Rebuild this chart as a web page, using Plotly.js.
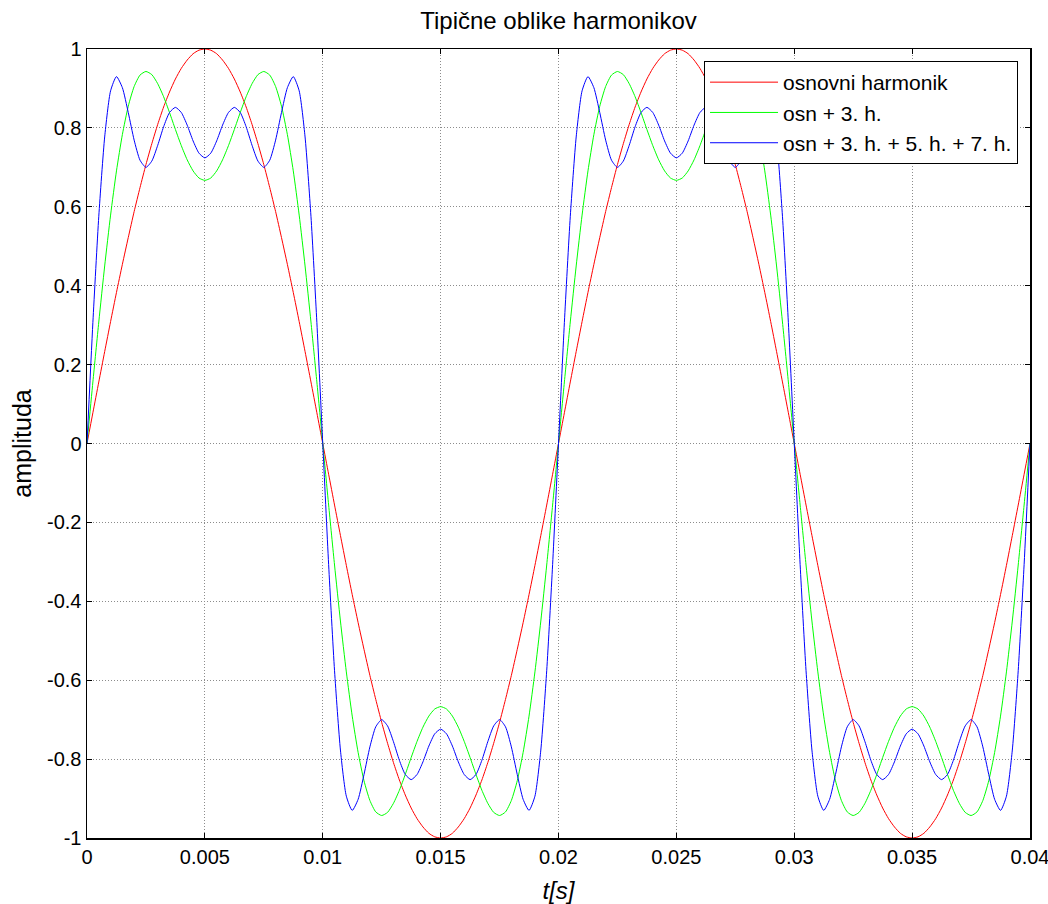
<!DOCTYPE html>
<html><head><meta charset="utf-8">
<script src="https://cdn.plot.ly/plotly-3.0.1.min.js"></script>
<style>html,body{margin:0;padding:0;background:#fff}#chart{width:1048px;height:904px}</style>
</head><body><div id="chart"></div>
<script>
var t = [0,0.00025,0.0005,0.00075,0.001,0.00125,0.0015,0.00175,0.002,0.00225,0.0025,0.00275,0.003,0.00325,0.0035,0.00375,0.004,0.00425,0.0045,0.00475,
0.005,0.00525,0.0055,0.00575,0.006,0.00625,0.0065,0.00675,0.007,0.00725,0.0075,0.00775,0.008,0.00825,0.0085,0.00875,0.009,0.00925,0.0095,0.00975,
0.01,0.01025,0.0105,0.01075,0.011,0.01125,0.0115,0.01175,0.012,0.01225,0.0125,0.01275,0.013,0.01325,0.0135,0.01375,0.014,0.01425,0.0145,0.01475,
0.015,0.01525,0.0155,0.01575,0.016,0.01625,0.0165,0.01675,0.017,0.01725,0.0175,0.01775,0.018,0.01825,0.0185,0.01875,0.019,0.01925,0.0195,0.01975,
0.02,0.02025,0.0205,0.02075,0.021,0.02125,0.0215,0.02175,0.022,0.02225,0.0225,0.02275,0.023,0.02325,0.0235,0.02375,0.024,0.02425,0.0245,0.02475,
0.025,0.02525,0.0255,0.02575,0.026,0.02625,0.0265,0.02675,0.027,0.02725,0.0275,0.02775,0.028,0.02825,0.0285,0.02875,0.029,0.02925,0.0295,0.02975,
0.03,0.03025,0.0305,0.03075,0.031,0.03125,0.0315,0.03175,0.032,0.03225,0.0325,0.03275,0.033,0.03325,0.0335,0.03375,0.034,0.03425,0.0345,0.03475,
0.035,0.03525,0.0355,0.03575,0.036,0.03625,0.0365,0.03675,0.037,0.03725,0.0375,0.03775,0.038,0.03825,0.0385,0.03875,0.039,0.03925,0.0395,0.03975,0.04];

var osnovni = [0,
.078,.156,.233,.309,.383,.454,.522,.588,.649,.707,.760,.809,.853,.891,.924,.951,.972,.988,.997,1,.997,.988,.972,.951,.924,.891,.853,.809,.760,.707,.649,.588,.522,.454,.383,.309,.233,.156,.078,0,
-.078,-.156,-.233,-.309,-.383,-.454,-.522,-.588,-.649,-.707,-.760,-.809,-.853,-.891,-.924,-.951,-.972,-.988,-.997,-1,-.997,-.988,-.972,-.951,-.924,-.891,-.853,-.809,-.760,-.707,-.649,-.588,-.522,-.454,-.383,-.309,-.233,-.156,-.078,0,
.078,.156,.233,.309,.383,.454,.522,.588,.649,.707,.760,.809,.853,.891,.924,.951,.972,.988,.997,1,.997,.988,.972,.951,.924,.891,.853,.809,.760,.707,.649,.588,.522,.454,.383,.309,.233,.156,.078,0,
-.078,-.156,-.233,-.309,-.383,-.454,-.522,-.588,-.649,-.707,-.760,-.809,-.853,-.891,-.924,-.951,-.972,-.988,-.997,-1,-.997,-.988,-.972,-.951,-.924,-.891,-.853,-.809,-.760,-.707,-.649,-.588,-.522,-.454,-.383,-.309,-.233,-.156,-.078,0];

var osn3 = [0,
.156,.308,.450,.579,.691,.783,.855,.905,.934,.943,.935,.912,.879,.839,.796,.755,.719,.691,.673,.667,.673,.691,.719,.755,.796,.839,.879,.912,.935,.943,.934,.905,.855,.783,.691,.579,.450,.308,.156,0,
-.156,-.308,-.450,-.579,-.691,-.783,-.855,-.905,-.934,-.943,-.935,-.912,-.879,-.839,-.796,-.755,-.719,-.691,-.673,-.667,-.673,-.691,-.719,-.755,-.796,-.839,-.879,-.912,-.935,-.943,-.934,-.905,-.855,-.783,-.691,-.579,-.450,-.308,-.156,0,
.156,.308,.450,.579,.691,.783,.855,.905,.934,.943,.935,.912,.879,.839,.796,.755,.719,.691,.673,.667,.673,.691,.719,.755,.796,.839,.879,.912,.935,.943,.934,.905,.855,.783,.691,.579,.450,.308,.156,0,
-.156,-.308,-.450,-.579,-.691,-.783,-.855,-.905,-.934,-.943,-.935,-.912,-.879,-.839,-.796,-.755,-.719,-.691,-.673,-.667,-.673,-.691,-.719,-.755,-.796,-.839,-.879,-.912,-.935,-.943,-.934,-.905,-.855,-.783,-.691,-.579,-.450,-.308,-.156,0];

var osn357 = [0,
.307,.576,.777,.894,.930,.902,.839,.769,.718,.700,.716,.756,.803,.839,.852,.839,.807,.767,.736,.724,.736,.767,.807,.839,.852,.839,.803,.756,.716,.700,.718,.769,.839,.902,.930,.894,.777,.576,.307,0,
-.307,-.576,-.777,-.894,-.930,-.902,-.839,-.769,-.718,-.700,-.716,-.756,-.803,-.839,-.852,-.839,-.807,-.767,-.736,-.724,-.736,-.767,-.807,-.839,-.852,-.839,-.803,-.756,-.716,-.700,-.718,-.769,-.839,-.902,-.930,-.894,-.777,-.576,-.307,0,
.307,.576,.777,.894,.930,.902,.839,.769,.718,.700,.716,.756,.803,.839,.852,.839,.807,.767,.736,.724,.736,.767,.807,.839,.852,.839,.803,.756,.716,.700,.718,.769,.839,.902,.930,.894,.777,.576,.307,0,
-.307,-.576,-.777,-.894,-.930,-.902,-.839,-.769,-.718,-.700,-.716,-.756,-.803,-.839,-.852,-.839,-.807,-.767,-.736,-.724,-.736,-.767,-.807,-.839,-.852,-.839,-.803,-.756,-.716,-.700,-.718,-.769,-.839,-.902,-.930,-.894,-.777,-.576,-.307,0];

var names = ['osnovni harmonik', 'osn + 3. h.', 'osn + 3. h. + 5. h. + 7. h.'];
var xTicks = [0, 0.005, 0.01, 0.015, 0.02, 0.025, 0.03, 0.035, 0.04];
var xTickText = ['0', '0.005', '0.01', '0.015', '0.02', '0.025', '0.03', '0.035', '0.04'];
var yTicks = [-1, -0.8, -0.6, -0.4, -0.2, 0, 0.2, 0.4, 0.6, 0.8, 1];
var yTickText = ['-1', '-0.8', '-0.6', '-0.4', '-0.2', '0', '0.2', '0.4', '0.6', '0.8', '1'];

var series = [osnovni, osn3, osn357];
var colors = ['#ff0000', '#00ff00', '#0000ff'];
var traces = series.map(function (s, i) {
  return {x: t, y: s, name: names[i], type: 'scatter', mode: 'lines',
    line: {color: colors[i], width: 1, shape: 'spline', smoothing: 0.6}};
});

var fam = 'Liberation Sans, Arial, sans-serif';
var axisCommon = {
  ticks: 'inside', ticklen: 5, tickwidth: 1, tickcolor: '#000',
  showline: true, linecolor: '#000', linewidth: 1.5, mirror: 'ticks',
  showgrid: true, gridcolor: '#8c8c8c', griddash: '1px,2px', gridwidth: 1, zeroline: false,
  tickfont: {family: fam, size: 20, color: '#000'}, automargin: false, ticklabeloverflow: 'allow'
};
var layout = {
  width: 1048, height: 904,
  margin: {l: 87, r: 18, t: 49, b: 66},
  paper_bgcolor: '#fff', plot_bgcolor: '#fff',
  font: {family: fam, size: 20, color: '#000'},
  title: {text: 'Tipične oblike harmonikov', font: {family: fam, size: 24, color: '#000'},
    x: 0.5, xref: 'paper', y: 0.977, yanchor: 'middle'},
  xaxis: Object.assign({}, axisCommon, {range: [0, 0.04], tickvals: xTicks, ticktext: xTickText,
    title: {text: '<i>t[s]</i>', font: {family: fam, size: 24, color: '#000'}, standoff: 15}}),
  yaxis: Object.assign({}, axisCommon, {range: [-1, 1], tickvals: yTicks, ticktext: yTickText,
    title: {text: 'amplituda', font: {family: fam, size: 25, color: '#000'}, standoff: 8}}),
  showlegend: true,
  legend: {x: 0.9873, xanchor: 'right', y: 0.9848, yanchor: 'top', bgcolor: '#fff',
    bordercolor: '#000', borderwidth: 1, font: {family: fam, size: 21, color: '#000'},
    itemwidth: 68, tracegroupgap: 0}
};
Plotly.newPlot('chart', traces, layout, {displayModeBar: false, staticPlot: true});
</script>
</body></html>
